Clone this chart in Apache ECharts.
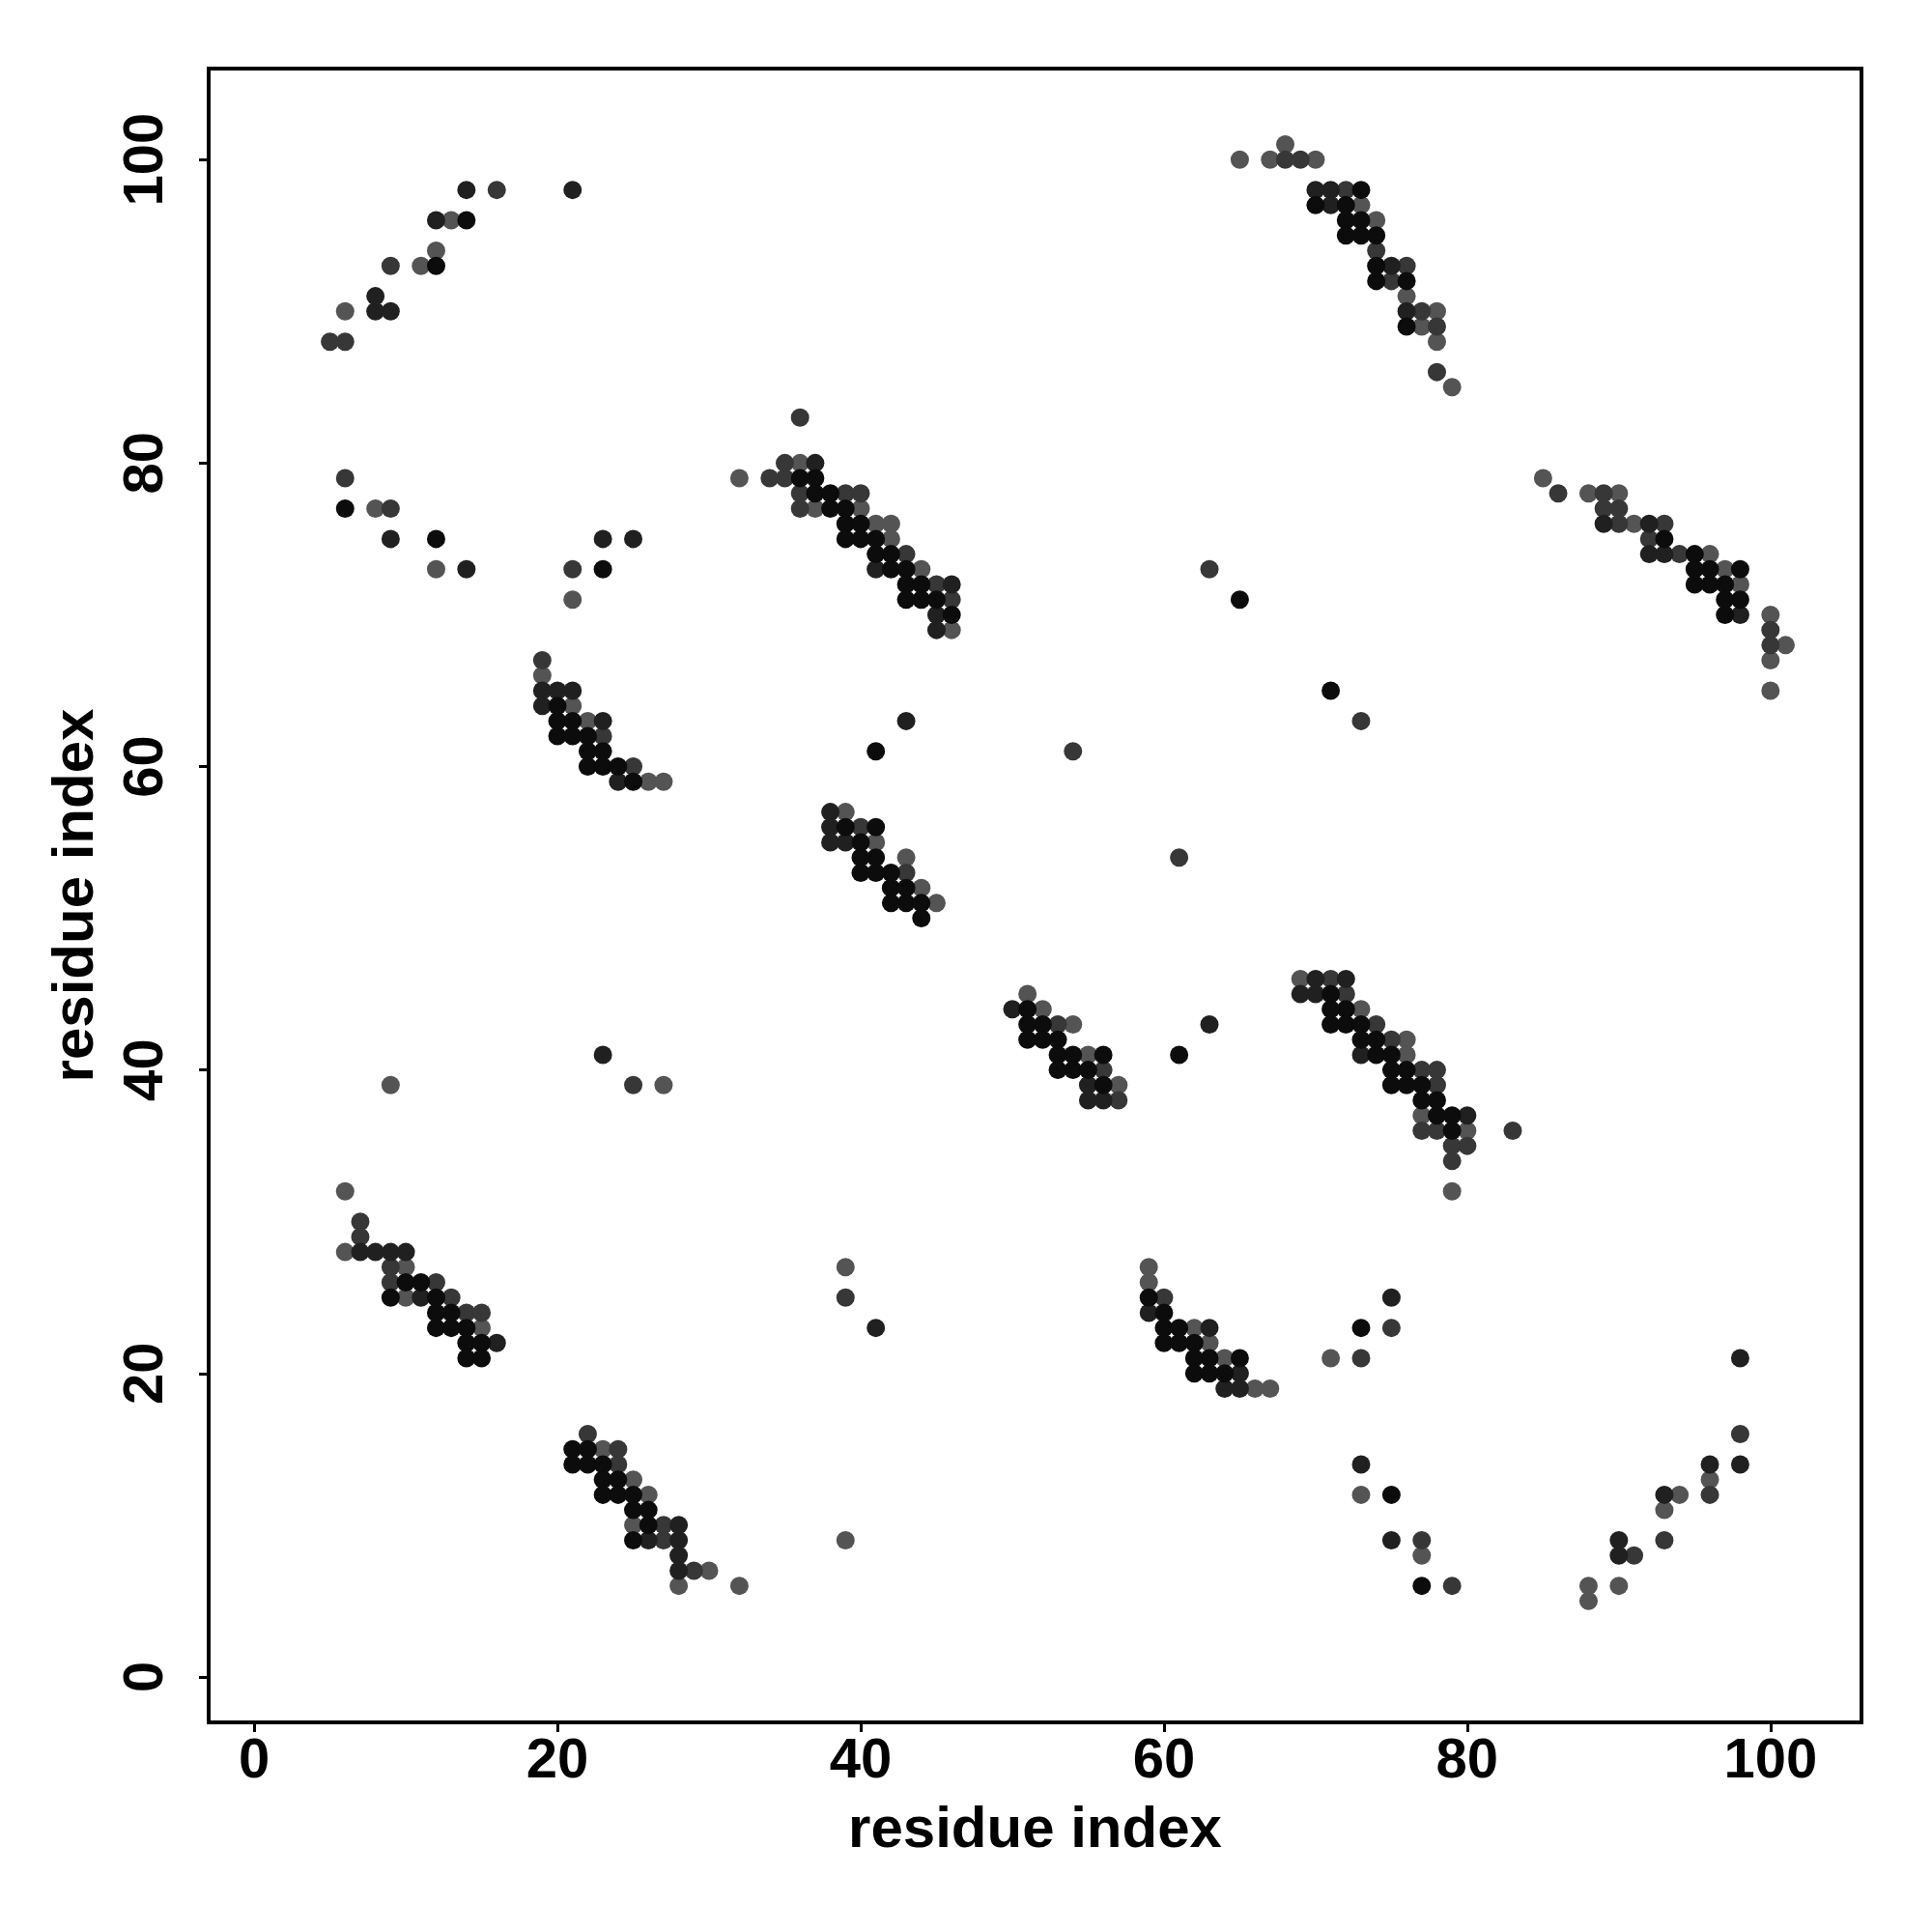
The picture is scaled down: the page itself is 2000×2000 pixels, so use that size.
<!DOCTYPE html>
<html>
<head>
<meta charset="utf-8">
<script src="https://cdn.jsdelivr.net/npm/echarts@6/dist/echarts.min.js"></script>
<style>
html,body{margin:0;padding:0;background:#fff;}
#chart{width:2000px;height:2000px;}
</style>
</head>
<body>
<div id="chart"></div>
<script>
// Tick labels (both axes)
const tickValues = [0, 20, 40, 60, 80, 100];
const axisTitle = 'residue index';

// Contacts [residue i, residue j] grouped by shade (darkest -> lightest)
const shadeA = [
  [14,96],[12,93],
  [73,98],[70,97],[72,97],[72,96],[73,96],[72,95],[73,95],[74,95],[74,93],[74,92],[76,92],[76,89],
  [36,79],[37,79],[37,78],[38,78],[38,77],[39,77],[39,76],[40,76],[39,75],[40,75],[41,75],[41,74],[42,74],[42,73],[43,73],[43,72],[44,72],[43,71],[44,71],[45,71],[46,70],
  [93,75],[95,74],[95,73],[96,73],[98,73],[95,72],[96,72],[97,72],[97,71],[98,71],[97,70],
  [6,77],[12,75],[23,73],
  [20,64],[20,63],[21,63],[20,62],[21,62],[22,62],[22,61],[23,61],[22,60],[23,60],[24,60],[25,59],
  [41,61],[39,56],[41,56],[40,55],[40,54],[41,54],[40,53],[41,53],[42,53],[42,52],[43,52],[42,51],[43,51],[44,51],[44,50],
  [51,44],[51,43],[52,43],[51,42],[52,42],[53,42],[53,41],[54,41],[56,41],[53,40],[54,40],[55,40],[56,39],
  [71,45],[71,44],[72,44],[71,43],[72,43],[73,43],[73,42],[74,42],[74,41],[75,41],[75,40],[76,40],[75,39],[76,39],[77,39],[77,38],[78,38],[78,37],[79,37],[79,36],
  [10,26],[11,26],[9,25],[12,25],[12,24],[13,24],[12,23],[13,23],[14,23],[14,22],[15,22],[14,21],[15,21],
  [21,15],[22,15],[21,14],[22,14],[23,14],[23,13],[24,13],[23,12],[24,12],[25,12],[25,11],[26,11],[26,10],[25,9],
  [59,25],[60,24],[60,23],[61,23],[60,22],[61,22],[62,22],[62,21],[63,21],[65,21],[62,20],[63,20],[64,20],
  [65,71],[71,65],[61,41],[73,23],[75,12],[77,6]
];
const shadeB = [
  [14,98],[21,98],[12,96],[8,91],[8,90],[9,90],
  [70,98],[71,98],[71,97],[75,93],[76,90],
  [37,80],[41,73],[46,72],[45,70],[45,69],
  [89,76],[92,76],[92,74],[93,74],[98,70],
  [9,75],[14,73],[23,75],[25,75],
  [19,65],[20,65],[21,65],[19,64],[23,63],[24,59],
  [43,63],[38,57],[38,56],[38,55],[39,55],
  [50,44],[55,39],[55,38],[56,38],
  [70,46],[72,46],[69,45],[70,45],[73,41],[80,37],
  [7,28],[8,28],[9,28],[10,28],[11,25],[16,22],
  [28,10],[26,9],[28,9],[28,8],[28,7],
  [59,24],[63,23],[65,20],[64,19],[65,19],
  [63,43],[23,41],[41,23],[75,25],[73,14],[75,9],[90,9],[90,8],[93,12],[96,14],[98,21],[98,14]
];
const shadeC = [
  [16,98],[9,93],[5,88],[6,88],[68,100],[69,100],
  [72,98],[74,94],[76,93],[75,92],[77,90],[78,89],[78,86],
  [36,83],[35,80],[34,79],[35,79],[36,78],[39,78],[40,78],[36,77],[43,74],[45,72],[46,71],
  [86,78],[89,78],[89,77],[90,77],[90,76],[93,76],[92,75],[94,74],[100,69],[100,68],
  [6,79],[9,77],[21,73],
  [19,67],[23,62],[25,60],
  [40,56],[43,53],
  [53,43],[56,40],[57,38],
  [71,46],[72,45],[74,43],[75,42],[77,40],[78,40],[78,39],[77,36],[78,36],[83,36],[79,35],[80,35],[79,34],
  [7,30],[7,29],[9,27],[9,26],[12,26],[13,25],[14,24],[15,24],
  [22,16],[24,15],[24,14],[27,10],[27,9],[29,7],
  [60,25],
  [63,73],[73,63],[54,61],[61,54],[25,39],[39,25],[73,21],[75,23],[77,9],[79,6],[91,8],[93,9],[96,12],[98,16]
];
const shadeD = [
  [13,96],[12,94],[11,93],[6,90],[65,100],[67,100],[68,101],[70,100],
  [73,97],[74,96],[76,91],[78,90],[77,89],[78,88],[79,85],
  [32,79],[36,80],[37,77],[40,77],[41,76],[42,76],[42,75],[44,73],[46,69],
  [85,79],[88,78],[90,78],[91,76],[96,74],[97,73],[98,72],[100,70],[101,68],[100,67],[100,65],
  [8,77],[12,73],[21,71],
  [19,66],[21,64],[22,63],[26,59],[27,59],
  [39,57],[41,55],[43,54],[44,52],[45,51],
  [51,45],[52,44],[54,43],[55,41],[57,39],
  [69,46],[73,44],[76,42],[76,41],[77,37],[80,36],[79,32],
  [6,32],[6,28],[10,27],[10,25],[15,23],
  [23,15],[25,13],[26,12],[25,10],[30,7],[28,6],[32,6],
  [59,27],[59,26],[62,23],[63,22],[64,21],[66,19],[67,19],
  [9,39],[27,39],[39,27],[39,9],[71,21],[73,12],[77,8],[88,6],[88,5],[90,6],[93,11],[94,12],[96,13]
];

const FONT = '"Liberation Sans", Arial, Helvetica, sans-serif';

function makeAxis(isY) {
  return {
    type: 'value',
    min: -3,
    max: 106,
    splitLine: { show: false },
    axisLine: { show: false, onZero: false },
    axisTick: {
      show: true,
      customValues: tickValues,
      length: 10,
      lineStyle: { color: '#000', width: 3 }
    },
    axisLabel: {
      show: true,
      customValues: tickValues,
      fontFamily: FONT,
      fontSize: 58,
      fontWeight: 'bold',
      color: '#000',
      margin: isY ? 35 : 12,
      rotate: isY ? 90 : 0
    },
    name: axisTitle,
    nameLocation: 'middle',
    nameGap: isY ? 107 : 82,
    nameRotate: isY ? 90 : 0,
    nameTextStyle: {
      fontFamily: FONT,
      fontSize: 60,
      fontWeight: 'bold',
      color: '#000'
    }
  };
}

function series(data, color) {
  return {
    type: 'scatter',
    data: data,
    symbol: 'circle',
    symbolSize: 19,
    itemStyle: { color: color, opacity: 1 },
    silent: true,
    animation: false
  };
}

const chart = echarts.init(document.getElementById('chart'), null, { renderer: 'canvas' });
chart.setOption({
  backgroundColor: '#ffffff',
  animation: false,
  grid: {
    show: true,
    left: 216, right: 73, top: 71, bottom: 217,
    borderColor: '#000',
    borderWidth: 4,
    backgroundColor: 'transparent'
  },
  xAxis: makeAxis(false),
  yAxis: makeAxis(true),
  series: [
    series(shadeD, '#545454'),
    series(shadeC, '#373737'),
    series(shadeB, '#202020'),
    series(shadeA, '#0c0c0c')
  ]
});
</script>
</body>
</html>
